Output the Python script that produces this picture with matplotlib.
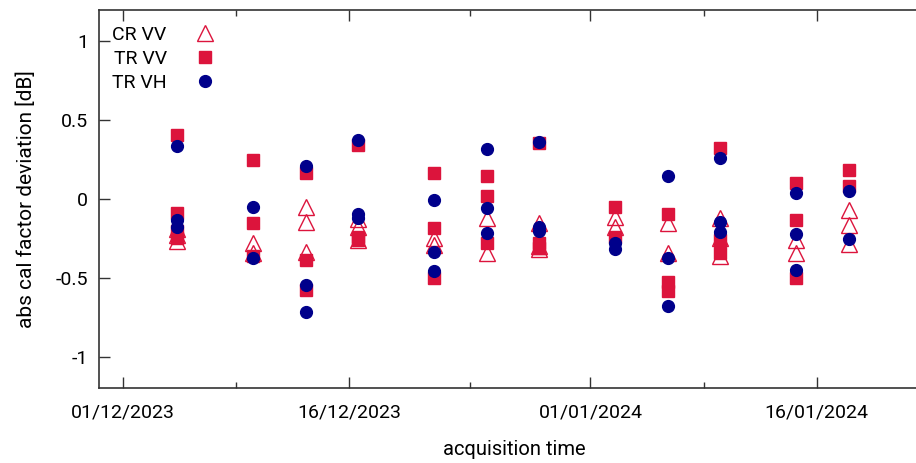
# Desviacion del factor de calibracion absoluto por adquisicion
import numpy as np
import pandas as pd
import matplotlib
matplotlib.use("Agg")
import matplotlib.pyplot as plt

plt.rcParams['font.family'] = ['Roboto', 'DejaVu Sans']

# Pasadas (fecha y hora de adquisicion)
passes = pd.to_datetime([
    "2023-12-04 14:30", "2023-12-09 15:00", "2023-12-13 03:00",
    "2023-12-16 14:30", "2023-12-21 15:00", "2023-12-25 03:00",
    "2023-12-28 14:30", "2024-01-02 15:00", "2024-01-06 03:00",
    "2024-01-09 14:30", "2024-01-14 15:00", "2024-01-18 03:00",
])

# CR VV (indice de pasada, valor en dB)
cr_vv_idx = [0, 0, 0, 1, 1, 2, 2, 2, 3, 3, 3, 4, 4, 5, 5, 6, 6, 6,
             7, 7, 8, 8, 9, 9, 9, 10, 10, 11, 11, 11]
cr_vv_val = [-0.19, -0.23, -0.265, -0.28, -0.345, -0.05, -0.145, -0.335,
             -0.13, -0.18, -0.26, -0.25, -0.29, -0.12, -0.34, -0.15, -0.30, -0.32,
             -0.115, -0.175, -0.15, -0.345, -0.12, -0.25, -0.365,
             -0.26, -0.345, -0.07, -0.165, -0.285]

# TR VV
tr_vv_idx = [0, 0, 0, 0, 1, 1, 1, 2, 2, 2, 3, 3, 3, 4, 4, 4, 5, 5, 5,
             6, 6, 6, 7, 7, 8, 8, 8, 9, 9, 9, 10, 10, 10, 11, 11]
tr_vv_val = [0.405, -0.09, -0.20, -0.25, 0.245, -0.15, -0.36,
             0.165, -0.39, -0.575, 0.34, -0.24, -0.26,
             0.163, -0.186, -0.503, 0.148, 0.019, -0.277,
             0.353, -0.28, -0.31, -0.053, -0.24, -0.095, -0.524, -0.587,
             0.321, -0.26, -0.344, 0.099, -0.133, -0.499, 0.184, 0.082]

# TR VH
tr_vh_idx = [0, 0, 0, 1, 1, 2, 2, 2, 3, 3, 3, 4, 4, 4, 5, 5, 5,
             6, 6, 6, 7, 7, 8, 8, 8, 9, 9, 9, 10, 10, 10, 11, 11]
tr_vh_val = [0.338, -0.133, -0.18, -0.049, -0.374, 0.211, -0.549, -0.718,
             0.374, -0.095, -0.122, -0.006, -0.334, -0.454,
             0.317, -0.055, -0.218, 0.363, -0.18, -0.20, -0.28, -0.32,
             0.148, -0.376, -0.678, 0.258, -0.148, -0.211,
             0.04, -0.224, -0.45, 0.053, -0.255]

tick_dates = pd.to_datetime(["2023-12-01", "2023-12-16", "2024-01-01", "2024-01-16"])
tick_labels = ["01/12/2023", "16/12/2023", "01/01/2024", "16/01/2024"]

fig = plt.figure(figsize=(9.16, 4.63), dpi=100)
ax = fig.add_axes([99/916, 75/463, 1 - 99/916, 378/463])

ax.plot(passes[cr_vv_idx], cr_vv_val, linestyle="none", marker="^", markersize=11,
        markerfacecolor="none", markeredgecolor="#dc143c", markeredgewidth=1.0, label="CR VV")
ax.plot(passes[tr_vv_idx], tr_vv_val, linestyle="none", marker="s", markersize=8,
        color="#dc143c", label="TR VV")
ax.plot(passes[tr_vh_idx], tr_vh_val, linestyle="none", marker="o", markersize=8.5,
        color="#00008b", label="TR VH")

ax.set_ylim(-1.2, 1.2)
ax.set_xlim(pd.Timestamp("2023-11-29 10:00"), pd.Timestamp("2024-01-22 14:00"))
ax.set_yticks([-1, -0.5, 0, 0.5, 1])
ax.set_yticklabels(["-1", "-0.5", "0", "0.5", "1"])
ax.set_xticks(tick_dates)
ax.set_xticklabels(tick_labels)
mid = tick_dates[:-1] + (tick_dates[1:] - tick_dates[:-1]) / 2
ax.set_xticks(mid, minor=True)

ax.tick_params(axis="both", which="both", direction="in", labelsize=14,
               top=True, right=False, color="#333333")
ax.tick_params(axis="both", which="major", length=8, width=1)
ax.tick_params(axis="x", which="minor", length=4, width=1)
ax.tick_params(axis="x", which="major", pad=11)
ax.tick_params(axis="y", which="major", pad=8)
for s in ["left", "bottom", "top"]:
    ax.spines[s].set_color("#333333")
    ax.spines[s].set_linewidth(1.2)
ax.spines["right"].set_visible(False)

ax.set_xlabel("acquisition time", fontsize=14.5)
ax.xaxis.set_label_coords(0.508, -0.138)
ax.set_ylabel("abs cal factor deviation [dB]", fontsize=15, labelpad=14)

ax.legend(loc="upper left", bbox_to_anchor=(0.016, 0.958), frameon=False,
          markerfirst=False, fontsize=14, handletextpad=0.95, labelspacing=0.3,
          borderaxespad=0, borderpad=0, alignment="right")

fig.savefig("out.png", dpi=100)
